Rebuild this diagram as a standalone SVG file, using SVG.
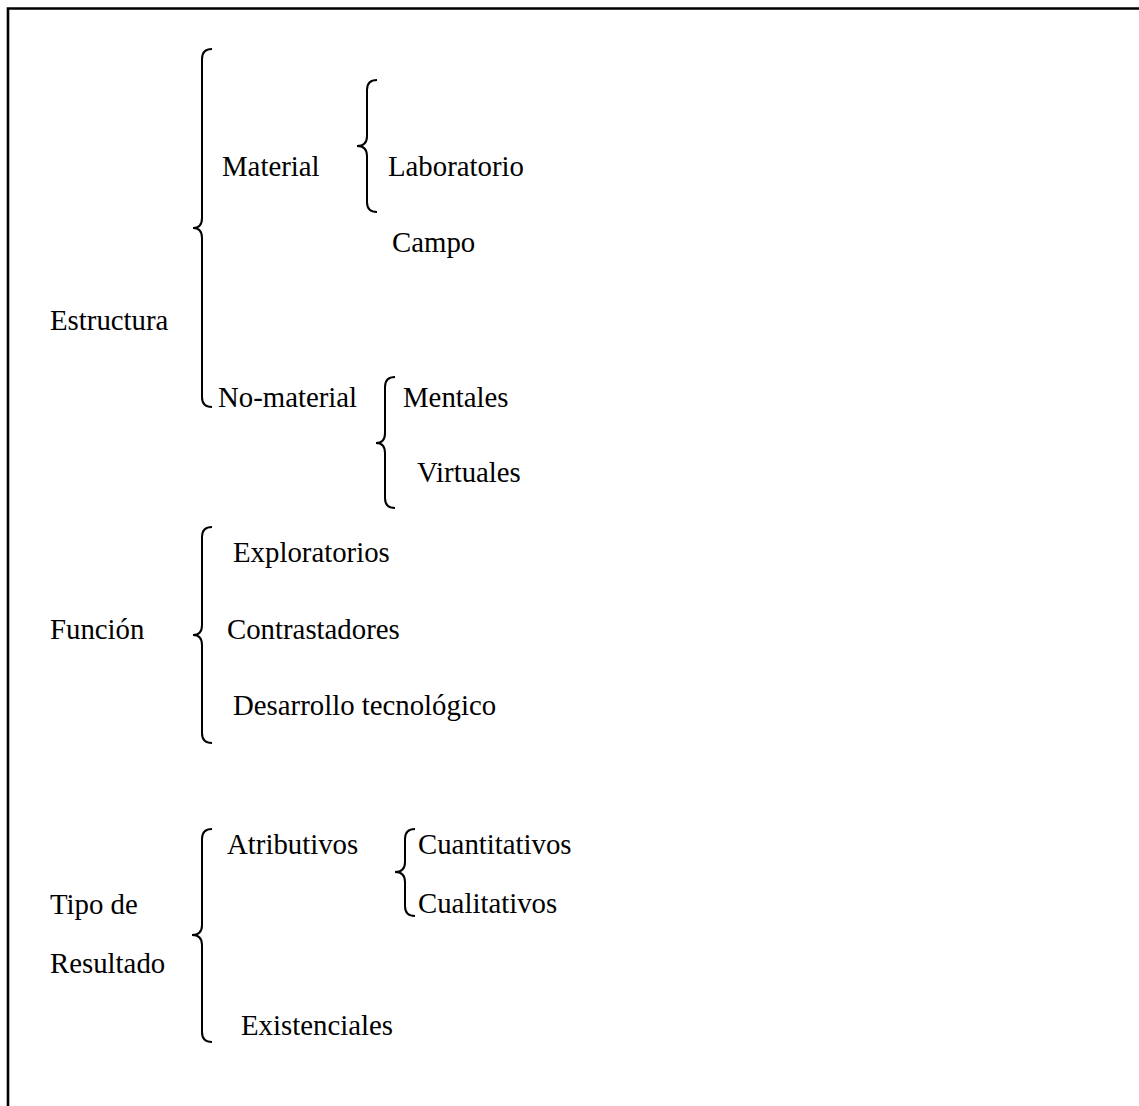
<svg xmlns="http://www.w3.org/2000/svg" width="1139" height="1106" viewBox="0 0 1139 1106">
<style>
.t{font-family:"Liberation Serif","Times New Roman",serif;font-size:28.8px;fill:#000}
.b{fill:none;stroke:#000;stroke-width:2}
.f{fill:none;stroke:#000;stroke-width:2.6}
</style>
<rect width="1139" height="1106" fill="#fff"/>
<g id="frame">
<path class="f" d="M8,1106 V8.5 H1139"/>
</g>
<g id="connectors">
<path class="b" d="M212,49 Q202,49 202,59 L202,218 Q202,228 193,228 Q202,228 202,238 L202,397 Q202,407 212,407"/>
<path class="b" d="M377,80 Q367,80 367,90 L367,136 Q367,146 357,146 Q367,146 367,156 L367,202 Q367,212 377,212"/>
<path class="b" d="M395,377 Q385,377 385,387 L385,433 Q385,443 376,443 Q385,443 385,453 L385,498 Q385,508 395,508"/>
<path class="b" d="M212,527 Q202,527 202,537 L202,625 Q202,635 193,635 Q202,635 202,645 L202,733 Q202,743 212,743"/>
<path class="b" d="M212,829 Q202,829 202,839 L202,925 Q202,935 192,935 Q202,935 202,945 L202,1032 Q202,1042 212,1042"/>
<path class="b" d="M415,829 Q405,829 405,839 L405,862 Q405,872 395,872 Q405,872 405,882 L405,906 Q405,916 415,916"/>
</g>
<g id="n-estructura"><text class="t" x="50" y="330">Estructura</text></g>
<g id="n-material"><text class="t" x="222" y="176">Material</text></g>
<g id="n-laboratorio"><text class="t" x="388" y="176">Laboratorio</text></g>
<g id="n-campo"><text class="t" x="392" y="252">Campo</text></g>
<g id="n-nomaterial"><text class="t" x="218" y="407">No-material</text></g>
<g id="n-mentales"><text class="t" x="403" y="407">Mentales</text></g>
<g id="n-virtuales"><text class="t" x="417" y="482">Virtuales</text></g>
<g id="n-funcion"><text class="t" x="50" y="639">Función</text></g>
<g id="n-exploratorios"><text class="t" x="233" y="562">Exploratorios</text></g>
<g id="n-contrastadores"><text class="t" x="227" y="639">Contrastadores</text></g>
<g id="n-desarrollo"><text class="t" x="233" y="715">Desarrollo tecnológico</text></g>
<g id="n-tipo"><text class="t" x="50" y="914">Tipo de</text><text class="t" x="50" y="973">Resultado</text></g>
<g id="n-atributivos"><text class="t" x="227" y="854">Atributivos</text></g>
<g id="n-cuantitativos"><text class="t" x="418" y="854">Cuantitativos</text></g>
<g id="n-cualitativos"><text class="t" x="418" y="913">Cualitativos</text></g>
<g id="n-existenciales"><text class="t" x="241" y="1035">Existenciales</text></g>
</svg>
